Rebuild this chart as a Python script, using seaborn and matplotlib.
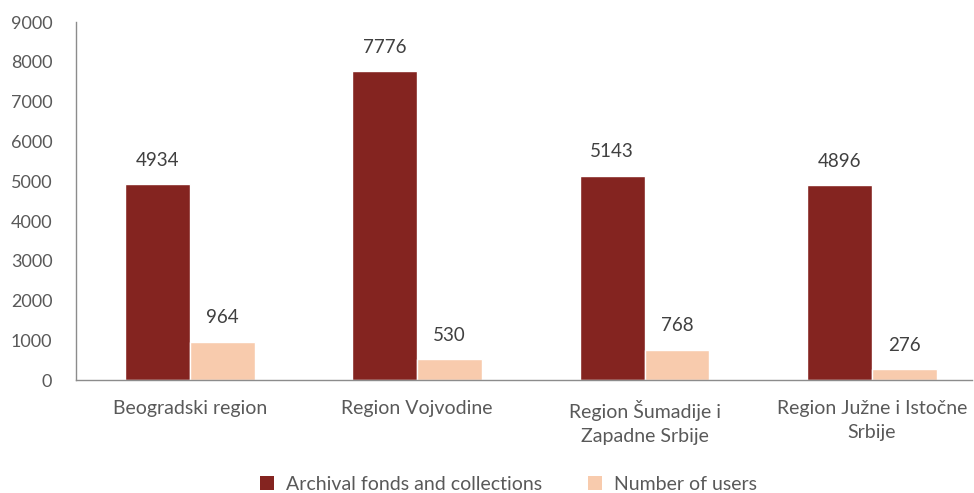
import pandas as pd
import matplotlib.pyplot as plt
import seaborn as sns
from matplotlib.patches import Patch

regions = ["Beogradski region", "Region Vojvodine",
           "Region Šumadije i\nZapadne Srbije", "Region Južne i Istočne\nSrbije"]
fonds = [4934, 7776, 5143, 4896]
users = [964, 530, 768, 276]
series_names = ["Archival fonds and collections", "Number of users"]
colors = ["#842420", "#F8CBAD"]

data = pd.DataFrame({
    "region": regions * 2,
    "value": fonds + users,
    "series": [series_names[0]] * len(regions) + [series_names[1]] * len(regions),
})

sns.set_style("white")
plt.rcParams["font.family"] = ["Lato", "DejaVu Sans"]
text_color = "#595959"

fig = plt.figure(figsize=(9.74, 4.93), dpi=100)
ax = fig.add_axes([0.078, 0.229, 0.92, 0.726])

sns.barplot(
    x="region",
    y="value",
    hue="series",
    data=data,
    palette=dict(zip(series_names, colors)),
    width=0.57,
    saturation=1,
    ax=ax,
)

for cont in ax.containers:
    ax.bar_label(cont, padding=11, fontsize=13.5, color="#404040")

ax.set_ylim(0, 9000)
ax.set_yticks(range(0, 9001, 1000))
ax.set_xlim(-0.5, 3.44)
ax.set_xlabel("")
ax.set_ylabel("")
ax.tick_params(axis="y", length=0, pad=17, labelsize=13, labelcolor=text_color)
ax.tick_params(axis="x", length=0, pad=14, labelsize=14, labelcolor=text_color)
for lab in ax.get_xticklabels():
    lab.set_linespacing(1.55)

for side in ["top", "right"]:
    ax.spines[side].set_visible(False)
for side in ["left", "bottom"]:
    ax.spines[side].set_color("#8c8c8c")
    ax.spines[side].set_linewidth(1)

ax.legend_.remove()
handles = [Patch(facecolor=c, edgecolor="none") for c in colors]
fig.legend(
    handles, series_names,
    loc="lower center", bbox_to_anchor=(0.522, -0.035), ncol=2,
    frameon=False, fontsize=14, labelcolor=text_color,
    handlelength=0.7, handleheight=0.7, handletextpad=0.6, columnspacing=2.4,
)

plt.savefig("out.png", dpi=100)
